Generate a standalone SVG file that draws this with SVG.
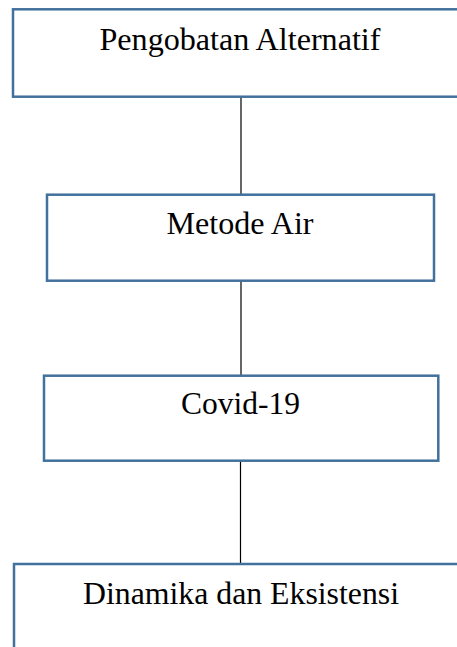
<svg xmlns="http://www.w3.org/2000/svg" width="457" height="647" viewBox="0 0 457 647">
  <style>
    .box { fill: #ffffff; stroke: #41719c; stroke-width: 2.5; }
    .label { font-family: "Liberation Serif", "Times New Roman", serif; font-size: 31.5px; fill: #000000; text-anchor: middle; }
    .link { stroke: #000000; stroke-width: 1.2; fill: none; }
  </style>
  <rect width="457" height="647" fill="#ffffff"/>
  <g id="connectors">
    <line class="link" x1="241" y1="97" x2="241" y2="195"/>
    <line class="link" x1="241" y1="281" x2="241" y2="376"/>
    <line class="link" x1="240.5" y1="461" x2="240.5" y2="564"/>
  </g>
  <g id="node-pengobatan">
    <rect class="box" x="13" y="9.3" width="460" height="87.4"/>
    <text class="label" x="240" y="50" textLength="281" lengthAdjust="spacingAndGlyphs">Pengobatan Alternatif</text>
  </g>
  <g id="node-metode">
    <rect class="box" x="47" y="194.7" width="387" height="86"/>
    <text class="label" x="240" y="234" textLength="147" lengthAdjust="spacingAndGlyphs">Metode Air</text>
  </g>
  <g id="node-covid">
    <rect class="box" x="44" y="375.7" width="394.3" height="85"/>
    <text class="label" x="240.5" y="414" textLength="119" lengthAdjust="spacingAndGlyphs">Covid-19</text>
  </g>
  <g id="node-dinamika">
    <rect class="box" x="14" y="564" width="460" height="100"/>
    <text class="label" x="241" y="604" textLength="316" lengthAdjust="spacingAndGlyphs">Dinamika dan Eksistensi</text>
  </g>
</svg>
